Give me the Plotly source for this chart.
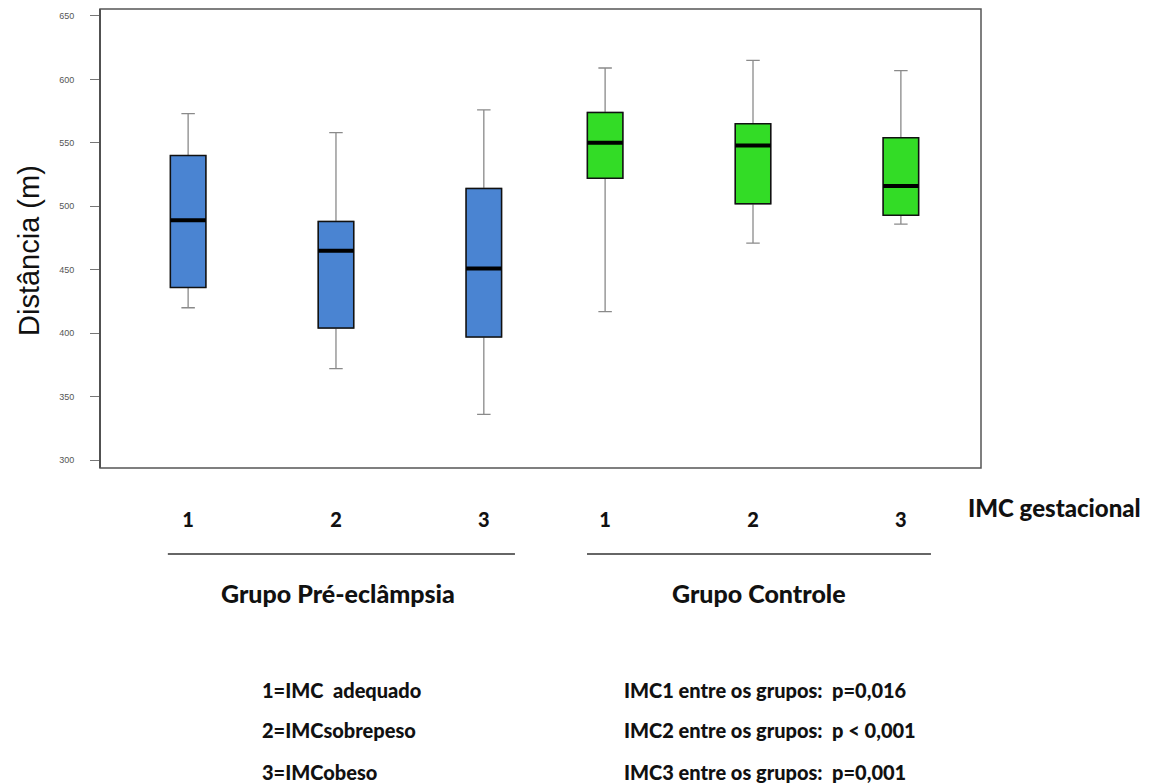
import plotly.graph_objects as go

# ---- data ----
categories = ["1", "2", "3"]

pe_lower = [420, 372, 336]
pe_q1 = [436, 404, 397]
pe_median = [489, 465, 451]
pe_q3 = [540, 488, 514]
pe_upper = [573, 558, 576]

ctrl_lower = [417, 471, 486]
ctrl_q1 = [522, 502, 493]
ctrl_median = [550, 548, 516]
ctrl_q3 = [574, 565, 554]
ctrl_upper = [609, 615, 607]

y_ticks = [300, 350, 400, 450, 500, 550, 600, 650]

group_names = ["Grupo Pré-eclâmpsia", "Grupo Controle"]
legend_left = ["1=IMC  adequado", "2=IMCsobrepeso", "3=IMCobeso"]
legend_right = ["IMC1 entre os grupos:  p=0,016",
                "IMC2 entre os grupos:  p &lt; 0,001",
                "IMC3 entre os grupos:  p=0,001"]

BLUE = "#4a84d2"
GREEN = "#33dc26"
TXT_FONT = "Lato, Liberation Sans Narrow, sans-serif"

fig = go.Figure()


def add_group(xaxis, lower, q1, med, q3, upper, fill):
    # whiskers (gray, with caps)
    fig.add_trace(go.Box(
        x=categories, q1=q1, median=med, q3=q3,
        lowerfence=lower, upperfence=upper,
        xaxis=xaxis, yaxis="y", width=0.24, whiskerwidth=0.38,
        fillcolor="rgba(0,0,0,0)", line=dict(color="#8a8a8a", width=1.3),
        boxpoints=False, showlegend=False, hoverinfo="skip"))
    # box body
    fig.add_trace(go.Box(
        x=categories, q1=q1, median=med, q3=q3,
        lowerfence=q1, upperfence=q3,
        xaxis=xaxis, yaxis="y", width=0.24, whiskerwidth=0,
        fillcolor=fill, line=dict(color="#111111", width=1.5),
        boxpoints=False, showlegend=False, hoverinfo="skip"))
    # thick median line
    fig.add_trace(go.Box(
        x=categories, q1=med, median=med, q3=med,
        lowerfence=med, upperfence=med,
        xaxis=xaxis, yaxis="y", width=0.24, whiskerwidth=0,
        fillcolor="rgba(0,0,0,0)", line=dict(color="#000000", width=4),
        boxpoints=False, showlegend=False, hoverinfo="skip"))


add_group("x", pe_lower, pe_q1, pe_median, pe_q3, pe_upper, BLUE)
add_group("x2", ctrl_lower, ctrl_q1, ctrl_median, ctrl_q3, ctrl_upper, GREEN)

xcommon = dict(type="category", range=[-0.4, 2.4], showgrid=False,
               zeroline=False, showline=False, ticks="",
               tickfont=dict(family=TXT_FONT, size=20, color="#111111", weight=900),
               ticklabelstandoff=38, fixedrange=True)

fig.update_layout(
    width=1157, height=783, autosize=False,
    margin=dict(l=100, r=176, t=9, b=315),
    paper_bgcolor="white", plot_bgcolor="white",
    boxmode="overlay",
    xaxis=dict(domain=[0.0329, 0.5028], anchor="y", **xcommon),
    xaxis2=dict(domain=[0.5062, 0.9762], anchor="y", **xcommon),
    yaxis=dict(range=[293.7, 655.5], tickvals=y_ticks, showgrid=False,
               zeroline=False, showline=True, linecolor="#444444", linewidth=2,
               ticks="outside", ticklen=9, tickcolor="#777777", tickwidth=1,
               tickfont=dict(family="Liberation Sans, Arial, sans-serif", size=9, color="#555555"),
               ticklabelstandoff=14, anchor="free", position=0, fixedrange=True),
)

# frame
fig.add_shape(type="rect", xref="paper", yref="paper", x0=0, x1=1, y0=0, y1=1,
              line=dict(color="#555555", width=1.5), layer="above")

# group underlines
for x0, x1 in [(0.077, 0.471), (0.5528, 0.9432)]:
    fig.add_shape(type="line", xref="paper", yref="paper", x0=x0, x1=x1,
                  y0=-0.1874, y1=-0.1874, line=dict(color="#333333", width=1.5))

ann = []
ann.append(dict(text="Distância (m)", x=-0.0806, y=0.475, textangle=-90,
                font=dict(family="Liberation Sans, Arial, sans-serif", size=29, color="#111111"),
                xanchor="center", yanchor="middle"))
ann.append(dict(text="IMC gestacional", x=1.0829, y=-0.0871,
                font=dict(family=TXT_FONT, size=24, color="#111111", weight=900),
                xanchor="center", yanchor="middle"))
for name, xc in zip(group_names, [0.2701, 0.748]):
    ann.append(dict(text=name, x=xc, y=-0.2723,
                    font=dict(family=TXT_FONT, size=25, color="#111111", weight=900),
                    xanchor="center", yanchor="middle"))
for txt, yy in zip(legend_left, [-0.4837, -0.5708, -0.6623]):
    ann.append(dict(text=txt, x=0.1816, y=yy,
                    font=dict(family=TXT_FONT, size=20, color="#111111", weight=900),
                    xanchor="left", yanchor="middle"))
for txt, yy in zip(legend_right, [-0.4837, -0.5708, -0.6623]):
    ann.append(dict(text=txt, x=0.5925, y=yy,
                    font=dict(family=TXT_FONT, size=20, color="#111111", weight=900),
                    xanchor="left", yanchor="middle"))
for a in ann:
    a.update(xref="paper", yref="paper", showarrow=False)
fig.update_layout(annotations=ann)

fig.write_html("out.html", config={"displayModeBar": False},
               post_script="document.body.style.margin='0';")
